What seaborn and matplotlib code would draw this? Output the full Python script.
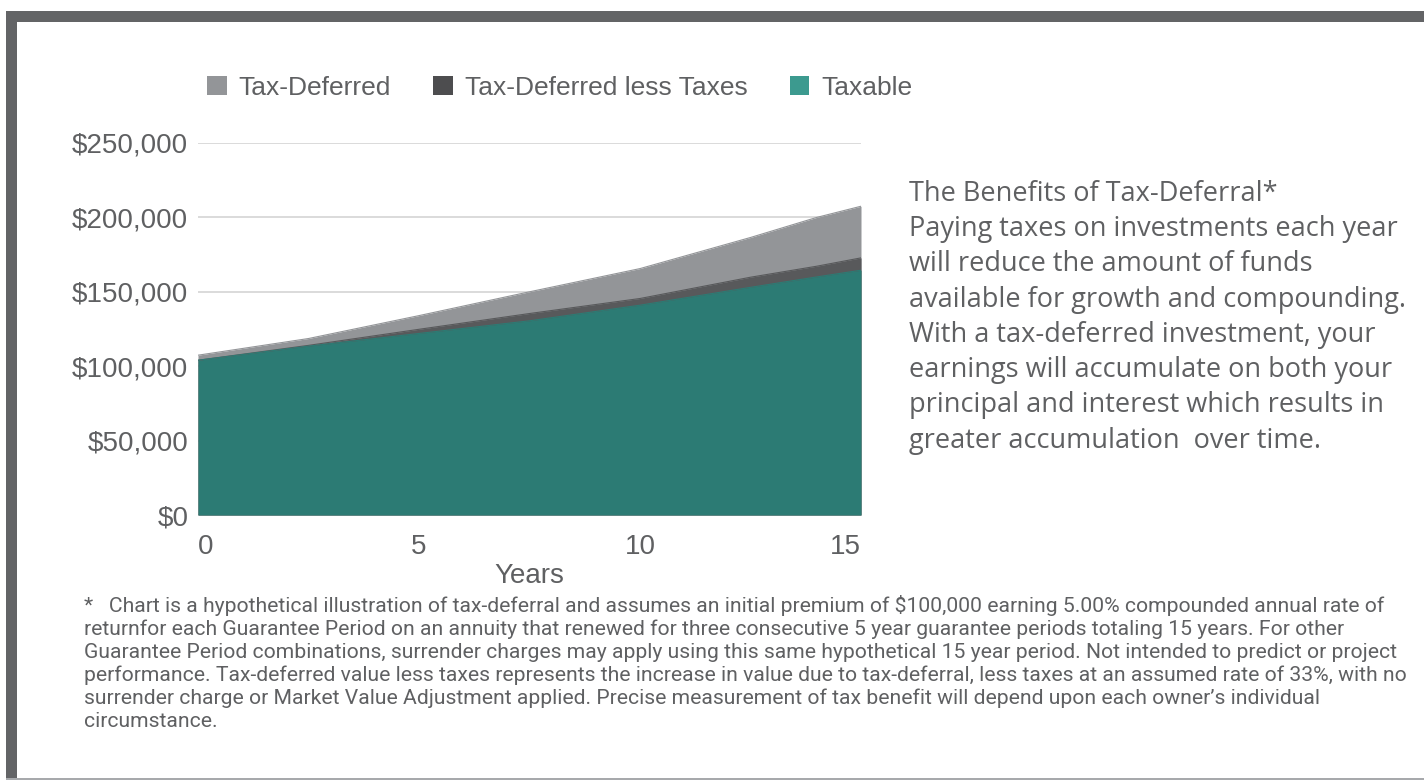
import matplotlib
matplotlib.use("Agg")
import matplotlib.pyplot as plt
from matplotlib.patches import Patch, Rectangle
from matplotlib.ticker import FuncFormatter
import seaborn as sns
import pandas as pd

# ======================
# Data
# ======================
years = [0, 2.5, 5, 7.5, 10, 12.5, 14, 15]
tax_deferred = [107400, 118600, 134000, 150000, 165600, 186500, 200000, 207500]
deferred_less_taxes = [104000, 114000, 124800, 135400, 145500, 159800, 167200, 172800]
taxable = [104000, 113500, 122000, 130500, 141000, 153000, 160000, 164500]

series_names = ["Tax-Deferred", "Tax-Deferred less Taxes", "Taxable"]
area_colors = ["#939598", "#58595b", "#2c7b74"]
legend_colors = ["#939598", "#4d4d4f", "#3c9a8f"]
y_ticks = [0, 50000, 100000, 150000, 200000, 250000]
x_ticks = [0, 5, 10, 15]

side_text = ("The Benefits of Tax-Deferral*\n"
             "Paying taxes on investments each year\n"
             "will reduce the amount of funds\n"
             "available for growth and compounding.\n"
             "With a tax-deferred investment, your\n"
             "earnings will accumulate on both your\n"
             "principal and interest which results in\n"
             "greater accumulation  over time.")

footnote = ("*   Chart is a hypothetical illustration of tax-deferral and assumes an initial premium of $100,000 earning 5.00% compounded annual rate of\n"
            "returnfor each Guarantee Period on an annuity that renewed for three consecutive 5 year guarantee periods totaling 15 years. For other\n"
            "Guarantee Period combinations, surrender charges may apply using this same hypothetical 15 year period. Not intended to predict or project\n"
            "performance. Tax-deferred value less taxes represents the increase in value due to tax-deferral, less taxes at an assumed rate of 33%, with no\n"
            "surrender charge or Market Value Adjustment applied. Precise measurement of tax benefit will depend upon each owner\u2019s individual\n"
            "circumstance.")

df = pd.DataFrame({"Year": years,
                   "Tax-Deferred": tax_deferred,
                   "Tax-Deferred less Taxes": deferred_less_taxes,
                   "Taxable": taxable})

# ======================
# Figure
# ======================
sns.set_style("white")
plt.rcParams['font.family'] = ['Liberation Sans', 'DejaVu Sans']
text_grey = "#5f6062"

fig = plt.figure(figsize=(14.24, 7.8), dpi=100)
ax = fig.add_axes([198 / 1424, 1 - 515 / 780, (861 - 198) / 1424, (515 - 143) / 780])

for name, col in zip(series_names, area_colors):
    ax.fill_between(df["Year"], 0, df[name], color=col, linewidth=0, zorder=2)
    sns.lineplot(data=df, x="Year", y=name, color=col, linewidth=0.8, ax=ax, zorder=3)

ax.set_xlim(0, 15)
ax.set_ylim(0, 250000)
ax.set_yticks(y_ticks)
ax.yaxis.set_major_formatter(FuncFormatter(lambda v, p: "${:,.0f}".format(v)))
ax.set_xticks(x_ticks)
ax.grid(axis="y", color="#d4d4d4", linewidth=1.2, zorder=0)
ax.grid(axis="x", visible=False)
for s in ax.spines.values():
    s.set_visible(False)
ax.tick_params(axis="both", length=0, labelsize=20, labelcolor=text_grey)
ax.tick_params(axis="y", pad=7)
ax.tick_params(axis="x", pad=13.5)
xl = ax.get_xticklabels()
xl[0].set_ha("left")
xl[-1].set_ha("right")
ax.set_xlabel("Years", fontsize=20, color=text_grey, labelpad=2)
ax.set_ylabel("")

handles = [Patch(facecolor=c, edgecolor="none") for c in legend_colors]
fig.legend(handles, series_names, loc="center left", bbox_to_anchor=(183 / 1424, 1 - 88 / 780),
           ncol=3, frameon=False, fontsize=19, labelcolor=text_grey,
           handlelength=0.75, handleheight=0.75, handletextpad=0.45, columnspacing=1.6)

fig.text(909 / 1424, 1 - 180 / 780, side_text, fontsize=19.5, color=text_grey,
         family=["Open Sans", "DejaVu Sans"], va="top", ha="left", linespacing=1.345)

fig.text(84 / 1424, 1 - 595 / 780, footnote, fontsize=15.2, color=text_grey,
         family=["Roboto", "DejaVu Sans"], va="top", ha="left", linespacing=1.235)

# frame
frame_col = "#636466"
fig.add_artist(Rectangle((6 / 1424, 1 - 22 / 780), 1, 11 / 780, transform=fig.transFigure,
                         facecolor=frame_col, edgecolor="none"))
fig.add_artist(Rectangle((6 / 1424, 0), 11 / 1424, 1 - 11 / 780, transform=fig.transFigure,
                         facecolor=frame_col, edgecolor="none"))
fig.add_artist(Rectangle((6 / 1424, 0), 1, 2.5 / 780, transform=fig.transFigure,
                         facecolor="#a7a9ac", edgecolor="none"))

fig.savefig("out.png", dpi=100)
